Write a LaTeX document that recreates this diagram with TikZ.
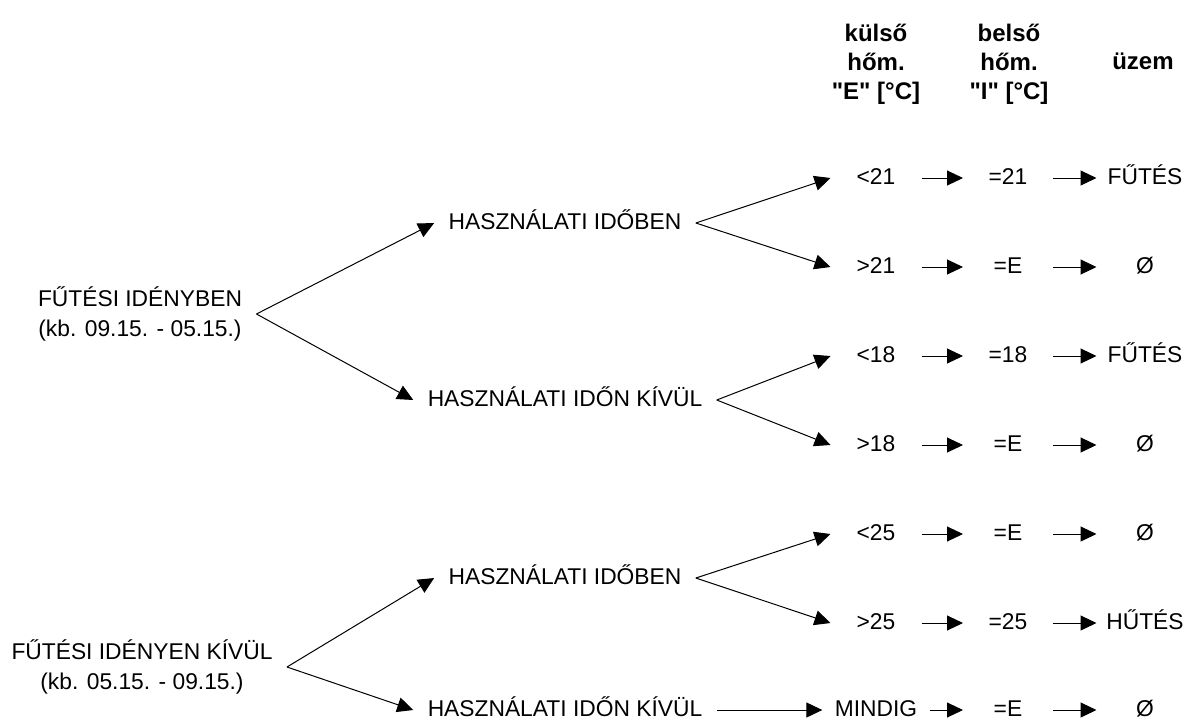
\documentclass[tikz,border=0pt]{standalone}
\usepackage{fontspec}
\setmainfont{Liberation Sans}[Ligatures=TeXOff]
\usetikzlibrary{arrows.meta}

\tikzset{
  txt/.style={inner xsep=7pt,inner ysep=2pt,font=\fontsize{11.4}{15}\selectfont},
  row/.style={txt,text height=8.5pt,text depth=2.5pt},
  ecol/.style={row,minimum width=45pt,inner xsep=0pt},
  icol/.style={row,minimum width=44.5pt,inner xsep=0pt},
  ucol/.style={row,minimum width=48pt,inner xsep=0pt},
  head/.style={align=center,font=\fontsize{12}{14.5}\bfseries\selectfont},
  arr/.style={draw,-{Triangle[length=8pt,width=7.5pt]}}
}

\begin{document}
\begin{tikzpicture}[x=0.5pt,y=-0.5pt,line width=0.5pt]
\useasboundingbox (0,0) rectangle (1190,725);

% fejlec
\node[head] (hE) at (876,64) {külső\\hőm.\\"E" [°C]};
\node[head] (hI) at (1009,64) {belső\\hőm.\\"I" [°C]};
\node[head] (hU) at (1143,61) {üzem};

% idoszakok
\node[txt,align=center] (fi) at (140,314) {FŰTÉSI IDÉNYBEN\\(kb. 09.15. - 05.15.)};
\node[txt,align=center] (fk) at (142,667) {FŰTÉSI IDÉNYEN KÍVÜL\\(kb. 05.15. - 09.15.)};

% hasznalat
\node[row] (hb1) at (565,223) {HASZNÁLATI IDŐBEN};
\node[row] (hk1) at (565,400) {HASZNÁLATI IDŐN KÍVÜL};
\node[row] (hb2) at (565,578) {HASZNÁLATI IDŐBEN};
\node[row] (hk2) at (565,710) {HASZNÁLATI IDŐN KÍVÜL};

% kulso hom.
\node[ecol] (e1) at (876,178) {<21};
\node[ecol] (e2) at (876,267) {>21};
\node[ecol] (e3) at (876,356) {<18};
\node[ecol] (e4) at (876,445) {>18};
\node[ecol] (e5) at (876,534) {<25};
\node[ecol] (e6) at (876,623) {>25};
\node[row,inner xsep=6pt] (e7) at (876,710) {MINDIG};

% belso hom.
\node[icol] (i1) at (1008,178) {=21};
\node[icol] (i2) at (1008,267) {=E};
\node[icol] (i3) at (1008,356) {=18};
\node[icol] (i4) at (1008,445) {=E};
\node[icol] (i5) at (1008,534) {=E};
\node[icol] (i6) at (1008,623) {=25};
\node[icol] (i7) at (1008,710) {=E};

% uzem
\node[ucol] (u1) at (1145,178) {FŰTÉS};
\node[ucol] (u2) at (1145,267) {Ø};
\node[ucol] (u3) at (1145,356) {FŰTÉS};
\node[ucol] (u4) at (1145,445) {Ø};
\node[ucol] (u5) at (1145,534) {Ø};
\node[ucol] (u6) at (1145,623) {HŰTÉS};
\node[ucol] (u7) at (1145,710) {Ø};

\path[arr] (fi.east) -- (hb1.west);
\path[arr] (fi.east) -- (hk1.west);
\path[arr] (fk.east) -- (hb2.west);
\path[arr] (fk.east) -- (hk2.west);

\path[arr] (hb1.east) -- (e1.west);
\path[arr] (hb1.east) -- (e2.west);
\path[arr] (hk1.east) -- (e3.west);
\path[arr] (hk1.east) -- (e4.west);
\path[arr] (hb2.east) -- (e5.west);
\path[arr] (hb2.east) -- (e6.west);
\path[arr] (hk2) -- (e7);

\foreach \r in {1,...,7} {
  \path[arr] (e\r) -- (i\r);
  \path[arr] (i\r) -- (u\r);
}

\end{tikzpicture}
\end{document}
